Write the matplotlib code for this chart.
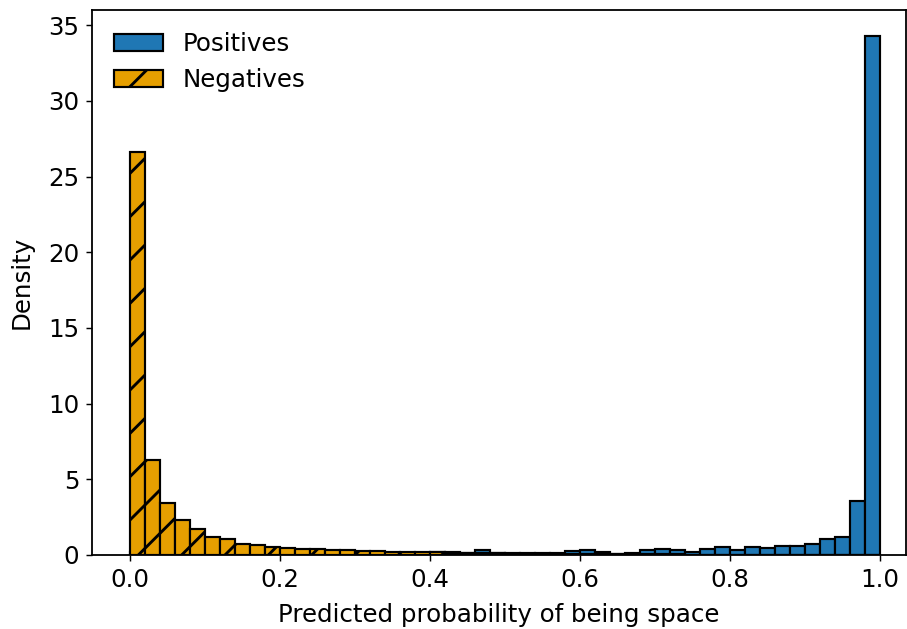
import numpy as np
import matplotlib
matplotlib.use('Agg')
import matplotlib.pyplot as plt

# Bin edges: 50 bins of width 0.02 over [0, 1]
bin_edges = np.linspace(0, 1, 51)
bin_centers = (bin_edges[:-1] + bin_edges[1:]) / 2

# Density per bin
positives = [0.20, 0.12, 0.10, 0.10, 0.09, 0.08, 0.08, 0.08, 0.07, 0.07,
             0.07, 0.07, 0.06, 0.06, 0.06, 0.06, 0.06, 0.06, 0.07, 0.08,
             0.18, 0.20, 0.12, 0.30, 0.10, 0.12, 0.12, 0.15, 0.12, 0.28,
             0.35, 0.20, 0.08, 0.15, 0.30, 0.40, 0.33, 0.20, 0.40, 0.50,
             0.33, 0.55, 0.48, 0.57, 0.60, 0.75, 1.07, 1.20, 3.60, 34.3]
negatives = [26.6, 6.30, 3.45, 2.30, 1.71, 1.17, 1.06, 0.75, 0.66, 0.50,
             0.48, 0.40, 0.42, 0.33, 0.30, 0.28, 0.25, 0.22, 0.20, 0.18,
             0.17, 0.15, 0.13, 0.11, 0.10, 0.09, 0.08, 0.08, 0.07, 0.06,
             0.06, 0.05, 0.05, 0.05, 0.04, 0.04, 0.04, 0.03, 0.03, 0.03,
             0.03, 0.03, 0.02, 0.02, 0.02, 0.02, 0.02, 0.02, 0.02, 0.02]

dpi = 130
plt.rcParams['font.size'] = 13.6
plt.rcParams['hatch.linewidth'] = 1.6
plt.rcParams['axes.linewidth'] = 1.0

fig = plt.figure(figsize=(907 / dpi, 629 / dpi), dpi=dpi)
ax = fig.add_axes([92 / 907, 1 - 555 / 629, (906 - 92) / 907, (555 - 10) / 629])

ax.hist(bin_centers, bins=bin_edges, weights=positives, color='#1f77b4',
        edgecolor='black', linewidth=1.2, label='Positives')
ax.hist(bin_centers, bins=bin_edges, weights=negatives, color='#E69F00',
        edgecolor='black', linewidth=1.2, hatch='/', label='Negatives')

ax.set_xlim(-0.05, 1.035)
ax.set_ylim(0, 36)
ax.set_xlabel('Predicted probability of being space', labelpad=6.5)
ax.set_ylabel('Density', labelpad=8)
ax.legend(loc='upper left', frameon=False)

fig.savefig('out.png', dpi=dpi)
